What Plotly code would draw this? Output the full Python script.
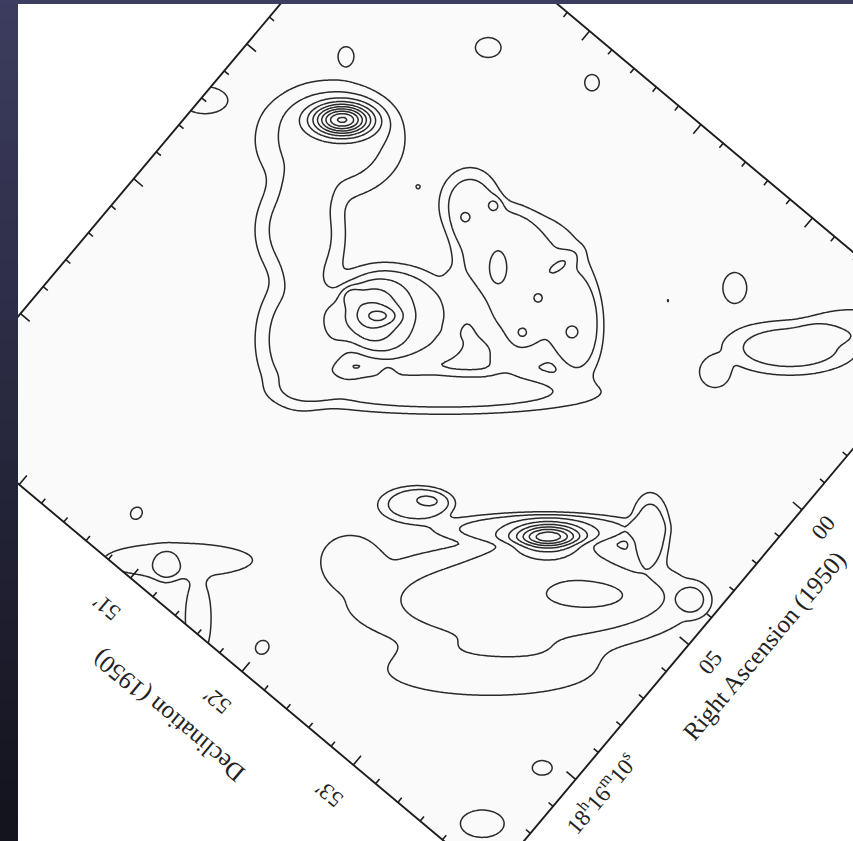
import numpy as np
import plotly.graph_objects as go

# ---------------------------------------------------------------
# Extended emission (summed, then saturating towards a plateau)
#   RA  : seconds after 18h16m00s (1950)
#   Dec : arcminutes of -16 deg (1950)
#   strength in contour units, sigma major/minor in arcsec, PA deg
#   shape 1 = Gaussian, 2 = flat-topped
# ---------------------------------------------------------------
env_ra = [0.57, 3.08, 5.47, 3.95, -0.57, 0.18, 0.17, 3.10, -0.16,
          7.11, 9.18, 5.18, 9.34, 3.21, 3.95, 6.96,
          12.49, 13.38,
          -3.31, -4.90, -1.41,
          -1.55, -4.33, -5.46, -3.60, 12.85, 12.23, 10.36, 12.67, 1.99, -2.10, -0.02]
env_dec = [50.114, 50.354, 50.840, 51.835, 51.139, 51.832, 52.261, 51.257, 51.448,
           53.149, 53.301, 52.936, 52.077, 53.525, 54.061, 52.176,
           51.171, 51.533,
           53.457, 53.672, 53.168,
           49.827, 50.539, 51.241, 52.901, 52.000, 50.744, 54.008, 53.939, 49.279, 52.605, 50.785]
env_level = [3.5, 3.5, 3.5, 3.5, 3.5, 3.5, 3.5, 3.5, 3.5,
             3.5, 1.8, 3.5, 1.8, 3.5, 2.0, 3.5,
             2.0, 2.0,
             3.5, 1.8, 2.2,
             1.8, 1.6, 1.6, 1.6, 1.6, 1.6, 1.6, 1.6, 1.8, 1.15, 1.35]
env_smaj = [24.8, 18.6, 22.7, 51.6, 12.4, 24.8, 17.3, 19.8, 14.4,
            57.8, 41.3, 35.1, 11.6, 12.4, 5.8, 12.4,
            28.9, 15.7,
            22.7, 16.5, 5.8,
            3.7, 5.8, 3.7, 7.0, 3.3, 2.9, 4.5, 9.9, 9.1, 1.2, 1.2]
env_smin = [19.8, 14.9, 14.9, 7.4, 10.3, 20.6, 8.3, 15.7, 14.4,
            18.6, 10.3, 5.0, 9.9, 6.6, 5.8, 6.2,
            6.6, 5.0,
            9.1, 6.2, 5.8,
            3.1, 4.5, 3.3, 5.4, 2.9, 2.5, 3.3, 6.2, 5.4, 1.2, 1.2]
env_pa = [-50, 40, 40, -50, 40, 40, 40, -50, 0,
          -50, -50, -50, -50, 40, 0, -50,
          -50, 40,
          -50, -50, 0,
          40, -50, 40, 40, 0, 0, -50, -50, -50, 0, 0]
env_shape = [2, 2, 2, 2, 2, 2, 2, 2, 2,
             2, 2, 2, 2, 2, 2, 2,
             2, 2,
             2, 2, 2,
             1, 1, 1, 1, 1, 1, 1, 1, 1, 1, 1]
plateau = 2.55   # saturation level of the extended emission

# ---------------------------------------------------------------
# Compact sources and knots (Gaussian, added on top)
# ---------------------------------------------------------------
pk_ra = [-0.09, 3.68, 3.58, 3.45,
         -0.22, -1.01, 1.37, 0.29, -0.91, 0.21, 0.33, 1.26, 2.23, 3.01, 4.58, 2.76,
         5.22, 5.36, 5.72, 6.58, 12.92]
pk_dec = [50.089, 51.088, 50.905, 51.166,
          51.166, 51.265, 51.381, 51.565, 51.879, 51.909, 52.239, 51.979, 52.022, 51.688, 51.450, 51.503,
          53.019, 53.064, 53.496, 52.233, 51.152]
pk_peak = [8.0, 3.0, 1.4, 1.4,
           1.05, 1.05, 1.05, 1.05, 1.05, 1.05, 1.05, 1.05, 1.05, 1.05, 1.05, 0.8,
           5.5, 1.2, 1.1, 1.0, 1.25]
pk_smaj = [8.3, 12.4, 2.9, 5.4,
           1.7, 2.1, 3.7, 5.8, 6.6, 2.1, 2.1, 2.9, 5.4, 6.6, 2.1, 1.0,
           9.1, 18.6, 20.0, 7.4, 5.0]
pk_smin = [4.5, 11.6, 2.9, 2.5,
           1.7, 2.1, 2.9, 2.9, 2.5, 2.1, 2.1, 2.9, 3.3, 3.3, 2.1, 1.0,
           3.7, 7.4, 6.2, 3.3, 3.7]
pk_pa = [-50, 40, 0, -50,
         0, 0, 40, 40, -15, 0, 0, 0, -50, -20, 0, 0,
         -50, -50, -50, -50, 40]

# Contour levels
level_start, level_end, level_step = 1, 12, 1

# Axis ticks and labels
ra_tick_sec = list(range(-6, 14))                              # every 1 s
ra_label_sec = [9.85, 5, 0]
ra_label_text = ["18<sup>h</sup>16<sup>m</sup>10<sup>s</sup>", "05", "00"]
dec_tick_min = [round(49.4 + 0.2 * i, 1) for i in range(25)]   # every 12"
dec_label_min = [51, 52, 53]
dec_label_text = ["51\u2032", "52\u2032", "53\u2032"]
ra_title = "Right Ascension (1950)"
dec_title = "Declination (1950)"

# ---------------------------------------------------------------
# Geometry: the map frame sits rotated on the page
# ---------------------------------------------------------------
W, H = 853, 841
ROT = np.deg2rad(40.0)
C, S = np.cos(ROT), np.sin(ROT)
A_REF, PX_PER_ARCMIN = 617.0, 145.4     # Dec 52' reference and scale
B_REF, PX_PER_SEC = -125.0, 35.2        # RA 00s reference and scale
PX_PER_ARCSEC = PX_PER_ARCMIN / 60.0
A_LO, A_HI = 217.3, 942.0               # frame extent across Dec
B_LO, B_HI = -355.2, 358.9              # frame extent across RA


def a_of_dec(d):
    return A_REF + (np.asarray(d, float) - 52.0) * PX_PER_ARCMIN


def b_of_ra(s):
    return B_REF + np.asarray(s, float) * PX_PER_SEC


def to_page(a, b):
    return a * C - b * S, a * S + b * C


# ---------------------------------------------------------------
# Brightness sampled on a page-aligned grid
# ---------------------------------------------------------------
xs = np.arange(0, W + 2, 2.0)
ys = np.arange(0, H + 2, 2.0)
GX, GY = np.meshgrid(xs, ys)
GA = GX * C + GY * S
GB = -GX * S + GY * C


def component(ra, dec, pk, smj, smn, pa, shape):
    dX = -(GB - b_of_ra(ra))
    dY = -(GA - a_of_dec(dec))
    ph = np.deg2rad(pa)
    u = dX * np.cos(ph) + dY * np.sin(ph)
    w = -dX * np.sin(ph) + dY * np.cos(ph)
    q = (u / (smj * PX_PER_ARCSEC)) ** 2 + (w / (smn * PX_PER_ARCSEC)) ** 2
    return pk * np.exp(-0.5 * q ** shape)


extended = np.zeros_like(GX)
for args in zip(env_ra, env_dec, env_level, env_smaj, env_smin, env_pa, env_shape):
    extended += component(*args)
field = plateau * np.tanh(extended / plateau)
for args in zip(pk_ra, pk_dec, pk_peak, pk_smaj, pk_smin, pk_pa):
    field += component(*args, 1)

fig = go.Figure()
fig.add_trace(go.Contour(
    x=xs, y=ys, z=field.astype(np.float32),
    contours=dict(start=level_start, end=level_end, size=level_step,
                  coloring="none"),
    line=dict(color="#2a2a2a", width=1.5, smoothing=0.9),
    showscale=False, hoverinfo="skip",
))

shapes = []

# plain page outside the frame (mask with a hole)
corners = [to_page(A_LO, B_HI), to_page(A_LO, B_LO),
           to_page(A_HI, B_LO), to_page(A_HI, B_HI)]
outer = "M -200 -300 L 1100 -300 L 1100 1100 L -200 1100 Z"
inner = "M " + " L ".join(f"{x:.1f} {y:.1f}" for x, y in corners[::-1]) + " Z"
shapes.append(dict(type="path", path=outer + " " + inner, xref="x", yref="y",
                   fillcolor="white", line=dict(width=0), layer="above",
                   fillrule="evenodd"))

# frame
frame = "M " + " L ".join(f"{x:.1f} {y:.1f}" for x, y in corners) + " Z"
shapes.append(dict(type="path", path=frame, xref="x", yref="y",
                   line=dict(color="#1e1e1e", width=1.9), layer="above"))

# tick marks, pointing inward on all four sides
tick_path = []
for s in ra_tick_sec:
    ln = 12 if s % 5 == 0 else 6
    b = b_of_ra(s)
    for a0, sgn in ((A_HI, -1), (A_LO, 1)):
        x0, y0 = to_page(a0, b)
        x1, y1 = to_page(a0 + sgn * ln, b)
        tick_path.append(f"M {x0:.1f} {y0:.1f} L {x1:.1f} {y1:.1f}")
for d in dec_tick_min:
    ln = 12 if abs(d - round(d)) < 1e-6 else 6
    a = a_of_dec(d)
    for b0, sgn in ((B_HI, -1), (B_LO, 1)):
        x0, y0 = to_page(a, b0)
        x1, y1 = to_page(a, b0 + sgn * ln)
        tick_path.append(f"M {x0:.1f} {y0:.1f} L {x1:.1f} {y1:.1f}")
shapes.append(dict(type="path", path=" ".join(tick_path), xref="x", yref="y",
                   line=dict(color="#1e1e1e", width=1.6), layer="above"))

# dark surround along the left and top of the page
n_band = 42
top_rgb = np.array([60, 60, 95])
bot_rgb = np.array([20, 20, 30])
for i in range(n_band):
    t = i / (n_band - 1)
    r, g, bl = (top_rgb * (1 - t) + bot_rgb * t).astype(int)
    shapes.append(dict(type="rect", xref="x", yref="y",
                       x0=-2, x1=18, y0=i * H / n_band - 0.5,
                       y1=(i + 1) * H / n_band + 0.5,
                       fillcolor=f"rgb({r},{g},{bl})", line=dict(width=0),
                       layer="above"))
shapes.append(dict(type="rect", xref="x", yref="y", x0=-2, x1=W + 2,
                   y0=-2, y1=4, fillcolor="rgb(60,61,96)",
                   line=dict(width=0), layer="above"))

annotations = []
tick_font = dict(family="Liberation Serif, Times New Roman, serif",
                 size=23, color="#222222")
title_font = dict(family="Liberation Serif, Times New Roman, serif",
                  size=25, color="#222222")
for s, txt in zip(ra_label_sec, ra_label_text):
    x, y = to_page(A_HI + 28, b_of_ra(s))
    annotations.append(dict(x=x, y=y, xref="x", yref="y", text=txt,
                            showarrow=False, textangle=-50, font=tick_font,
                            xanchor="center", yanchor="middle"))
x, y = to_page(A_HI + 59, b_of_ra(3.65))
annotations.append(dict(x=x, y=y, xref="x", yref="y", text=ra_title,
                        showarrow=False, textangle=-50, font=title_font,
                        xanchor="center", yanchor="middle"))
for d, txt in zip(dec_label_min, dec_label_text):
    x, y = to_page(a_of_dec(d), B_HI + 38)
    annotations.append(dict(x=x, y=y, xref="x", yref="y", text=txt,
                            showarrow=False, textangle=-140, font=tick_font,
                            xanchor="center", yanchor="middle"))
x, y = to_page(a_of_dec(51.81), B_HI + 81)
annotations.append(dict(x=x, y=y, xref="x", yref="y", text=dec_title,
                        showarrow=False, textangle=-140, font=title_font,
                        xanchor="center", yanchor="middle"))

fig.update_layout(
    width=W, height=H, margin=dict(l=0, r=0, t=0, b=0),
    paper_bgcolor="white", plot_bgcolor="#fafafa",
    xaxis=dict(range=[0, W], visible=False, fixedrange=True),
    yaxis=dict(range=[H, 0], visible=False, fixedrange=True),
    shapes=shapes, annotations=annotations, showlegend=False,
)
fig.write_html("out.html")
